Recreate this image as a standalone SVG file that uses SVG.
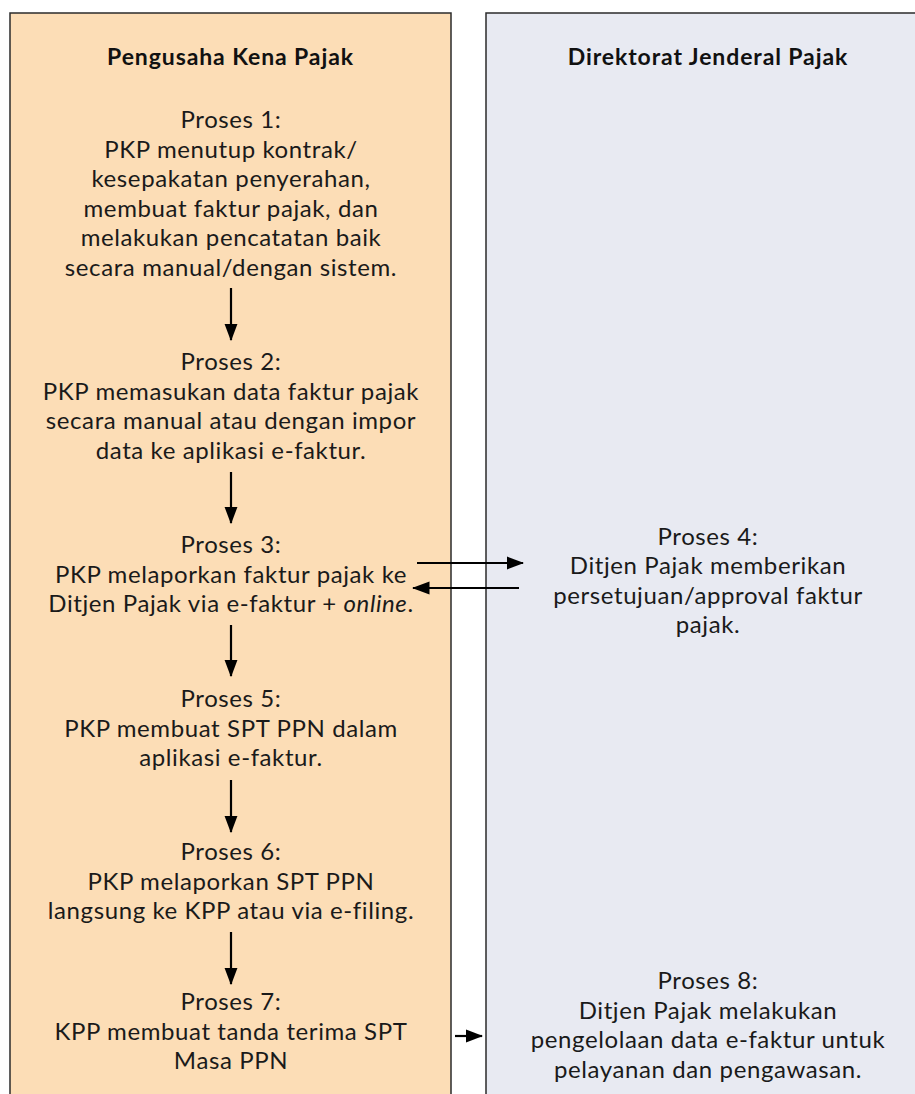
<svg xmlns="http://www.w3.org/2000/svg" width="915" height="1094" viewBox="0 0 915 1094">
<style>
.lane{stroke:#2b2b2b;stroke-width:1.5}
.hd{font-family:Lato,"Liberation Sans",sans-serif;font-weight:bold;font-size:23px;letter-spacing:0.9px;fill:#111;text-anchor:middle}
.tx{font-family:Lato,"Liberation Sans",sans-serif;font-size:24px;letter-spacing:0.6px;fill:#1a1a1a;text-anchor:middle}
.ar{stroke:#000;stroke-width:2.2;fill:none;marker-end:url(#ah)}
</style>
<defs>
<marker id="ah" markerWidth="8" markerHeight="6" refX="7.5" refY="3" orient="auto" markerUnits="strokeWidth"><path d="M0,0 L8,3 L0,6 z" fill="#000"/></marker>
</defs>
<rect width="915" height="1094" fill="#fff"/>
<g id="lane-pkp"><rect class="lane" x="10" y="13" width="441" height="1100" fill="#FCDDB6"/><text class="hd" x="230.5" y="65">Pengusaha Kena Pajak</text></g>
<g id="lane-djp"><rect class="lane" x="486" y="13" width="441" height="1100" fill="#E8EAF2"/><text class="hd" x="708" y="65">Direktorat Jenderal Pajak</text></g>
<g id="p1"><text class="tx"><tspan x="231" y="128">Proses 1:</tspan><tspan x="231" y="157.5">PKP menutup kontrak/</tspan><tspan x="231" y="187">kesepakatan penyerahan,</tspan><tspan x="231" y="216.5">membuat faktur pajak, dan</tspan><tspan x="231" y="246">melakukan pencatatan baik</tspan><tspan x="231" y="275.5">secara manual/dengan sistem.</tspan></text></g>
<g id="p2"><text class="tx"><tspan x="231" y="370">Proses 2:</tspan><tspan x="231" y="399.5">PKP memasukan data faktur pajak</tspan><tspan x="231" y="429">secara manual atau dengan impor</tspan><tspan x="231" y="458.5">data ke aplikasi e-faktur.</tspan></text></g>
<g id="p3"><text class="tx"><tspan x="231" y="553">Proses 3:</tspan><tspan x="231" y="582.5">PKP melaporkan faktur pajak ke</tspan><tspan x="231" y="612">Ditjen Pajak via e-faktur + <tspan font-style="italic">online</tspan>.</tspan></text></g>
<g id="p4"><text class="tx"><tspan x="708" y="544.5">Proses 4:</tspan><tspan x="708" y="574">Ditjen Pajak memberikan</tspan><tspan x="708" y="603.5">persetujuan/approval faktur</tspan><tspan x="708" y="633">pajak.</tspan></text></g>
<g id="p5"><text class="tx"><tspan x="231" y="707">Proses 5:</tspan><tspan x="231" y="736.5">PKP membuat SPT PPN dalam</tspan><tspan x="231" y="766">aplikasi e-faktur.</tspan></text></g>
<g id="p6"><text class="tx"><tspan x="231" y="860">Proses 6:</tspan><tspan x="231" y="889.5">PKP melaporkan SPT PPN</tspan><tspan x="231" y="919">langsung ke KPP atau via e-filing.</tspan></text></g>
<g id="p7"><text class="tx"><tspan x="231" y="1010">Proses 7:</tspan><tspan x="231" y="1039.5">KPP membuat tanda terima SPT</tspan><tspan x="231" y="1069">Masa PPN</tspan></text></g>
<g id="p8"><text class="tx"><tspan x="708" y="989">Proses 8:</tspan><tspan x="708" y="1018.5">Ditjen Pajak melakukan</tspan><tspan x="708" y="1048">pengelolaan data e-faktur untuk</tspan><tspan x="708" y="1077.5">pelayanan dan pengawasan.</tspan></text></g>
<g id="connectors">
<line class="ar" x1="231" y1="288" x2="231" y2="340"/>
<line class="ar" x1="231" y1="472" x2="231" y2="523"/>
<line class="ar" x1="231" y1="625" x2="231" y2="676"/>
<line class="ar" x1="231" y1="780" x2="231" y2="832"/>
<line class="ar" x1="231" y1="932" x2="231" y2="984"/>
<line class="ar" x1="417" y1="563" x2="523" y2="563"/>
<line class="ar" x1="519" y1="588" x2="413" y2="588"/>
<line class="ar" x1="455" y1="1036" x2="482" y2="1036"/>
</g>
</svg>
